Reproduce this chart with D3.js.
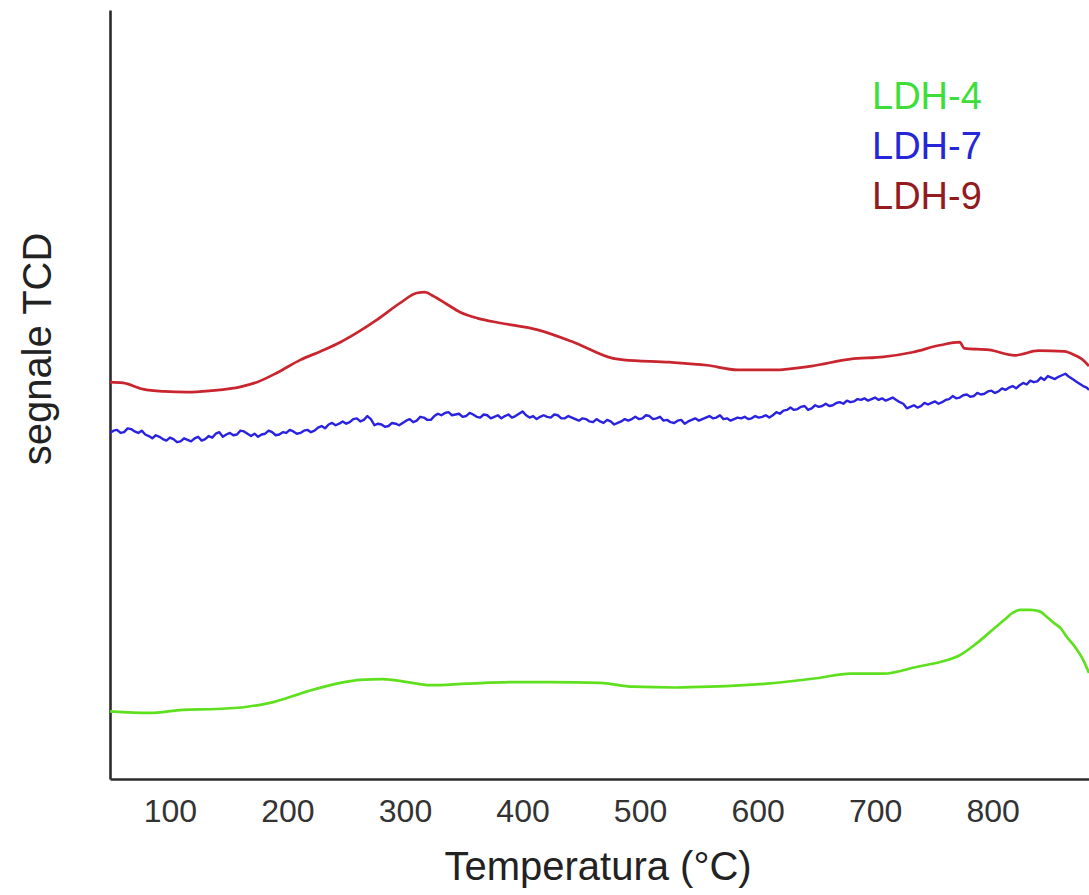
<!DOCTYPE html>
<html>
<head>
<meta charset="utf-8">
<script src="https://cdn.jsdelivr.net/npm/d3@7"></script>
<style>
  html, body { margin: 0; padding: 0; background: #fff; }
  svg { display: block; font-family: "Liberation Sans", Arial, sans-serif; }
</style>
</head>
<body>
<svg id="chart" width="1089" height="895"></svg>
<script>
// Temperature ticks (°C)
const xTicks = [100, 200, 300, 400, 500, 600, 700, 800];

// TCD signal (arbitrary units) vs temperature (°C)
const ldh4T = [49, 83, 111, 140, 166, 188, 217, 245, 262, 281, 302, 321, 353, 395, 423, 466, 494, 530, 560, 608, 650, 679, 707, 736, 760, 772, 786, 800, 810, 817, 824, 832, 840, 846, 852, 858, 863, 870, 877, 882];
const ldh4V = [8.8, 8.6, 9.0, 9.1, 9.4, 10.0, 11.4, 12.5, 12.9, 13.0, 12.6, 12.2, 12.4, 12.6, 12.6, 12.5, 12.0, 11.9, 12.0, 12.4, 13.1, 13.7, 13.7, 14.6, 15.4, 16.1, 17.6, 19.4, 20.7, 21.6, 22.0, 22.0, 21.8, 21.1, 20.3, 19.6, 18.5, 17.2, 15.5, 13.8];

const ldh7T = [
  49, 52, 55, 58, 61, 64, 67, 70, 73, 76,
  79, 82, 85, 88, 91, 94, 97, 100, 103, 106,
  109, 112, 115, 118, 121, 124, 127, 130, 133, 136,
  139, 142, 145, 148, 151, 154, 157, 160, 163, 166,
  169, 172, 175, 178, 181, 184, 187, 190, 193, 196,
  199, 202, 205, 208, 211, 214, 217, 220, 223, 226,
  229, 232, 235, 238, 241, 244, 247, 250, 253, 256,
  259, 262, 265, 268, 271, 274, 277, 280, 283, 286,
  289, 292, 295, 298, 301, 304, 307, 310, 313, 316,
  319, 322, 325, 328, 331, 334, 337, 340, 343, 346,
  349, 352, 355, 358, 361, 364, 367, 370, 373, 376,
  379, 382, 385, 388, 391, 394, 397, 400, 403, 406,
  409, 412, 415, 418, 421, 424, 427, 430, 433, 436,
  439, 442, 445, 448, 451, 454, 457, 460, 463, 466,
  469, 472, 475, 478, 481, 484, 487, 490, 493, 496,
  499, 502, 505, 508, 511, 514, 517, 520, 523, 526,
  529, 532, 535, 538, 541, 544, 547, 550, 553, 556,
  559, 562, 565, 568, 571, 574, 577, 580, 583, 586,
  589, 592, 595, 598, 601, 604, 607, 610, 613, 616,
  619, 622, 625, 628, 631, 634, 637, 640, 643, 646,
  649, 652, 655, 658, 661, 664, 667, 670, 673, 676,
  679, 682, 685, 688, 691, 694, 697, 700, 703, 706,
  709, 712, 715, 718, 721, 724, 727, 730, 733, 736,
  739, 742, 745, 748, 751, 754, 757, 760, 763, 766,
  769, 772, 775, 778, 781, 784, 787, 790, 793, 796,
  799, 802, 805, 808, 811, 814, 817, 820, 823, 826,
  829, 832, 835, 838, 841, 844, 847, 850, 853, 856,
  859, 862, 865, 868, 871, 874, 877, 880, 882
];
const ldh7V = [
  45.0, 45.3, 45.4, 45.0, 45.1, 45.6, 45.5, 45.2, 45.0, 45.3,
  44.8, 44.6, 44.3, 44.7, 44.5, 44.2, 44.0, 44.4, 44.2, 43.8,
  43.9, 44.3, 44.1, 43.9, 44.3, 44.5, 44.0, 44.2, 44.6, 44.4,
  44.9, 45.1, 44.5, 44.8, 45.0, 44.7, 44.8, 45.3, 45.2, 44.9,
  44.6, 44.9, 44.5, 44.8, 44.9, 45.3, 45.1, 44.7, 44.8, 45.1,
  45.0, 45.4, 45.2, 44.9, 45.0, 45.3, 45.4, 45.1, 45.3, 45.7,
  45.9, 45.6, 46.1, 46.3, 46.0, 46.2, 46.5, 46.2, 46.4, 46.8,
  46.9, 46.5, 46.7, 47.2, 46.8, 46.0, 46.2, 46.1, 45.8, 45.9,
  46.3, 46.2, 46.0, 46.3, 46.6, 46.8, 46.4, 46.6, 47.1, 47.0,
  46.7, 46.7, 47.2, 47.5, 47.3, 47.6, 47.7, 47.3, 47.4, 47.5,
  47.1, 47.2, 47.6, 47.4, 47.1, 47.0, 47.4, 47.3, 46.9, 47.1,
  47.3, 46.9, 47.2, 47.4, 47.0, 47.2, 47.5, 47.8, 47.3, 47.0,
  47.2, 46.8, 47.1, 47.3, 47.1, 47.0, 47.4, 47.3, 46.9, 46.9,
  47.2, 47.0, 46.8, 46.6, 46.9, 46.8, 46.5, 46.4, 46.8, 46.5,
  46.3, 46.7, 46.5, 46.1, 46.3, 46.5, 46.8, 46.6, 46.8, 47.1,
  46.8, 46.9, 47.3, 47.2, 46.8, 46.9, 47.1, 46.6, 46.7, 46.4,
  46.3, 46.6, 46.7, 46.2, 46.5, 46.7, 46.9, 46.6, 46.8, 47.0,
  47.2, 46.9, 47.0, 47.3, 46.8, 46.9, 46.6, 46.8, 47.0, 46.9,
  47.1, 46.8, 46.9, 47.2, 47.0, 47.1, 47.3, 47.0, 47.3, 47.7,
  47.5, 47.9, 48.0, 48.3, 48.0, 48.1, 48.4, 48.5, 48.0, 48.2,
  48.6, 48.4, 48.5, 48.8, 48.5, 48.6, 48.9, 49.0, 48.8, 49.2,
  49.0, 49.1, 49.4, 49.3, 49.5, 49.2, 49.4, 49.6, 49.3, 49.5,
  49.2, 49.4, 49.6, 49.3, 49.0, 48.8, 48.2, 48.4, 48.6, 48.3,
  48.5, 48.9, 48.7, 48.9, 49.1, 48.8, 49.0, 49.3, 49.4, 49.8,
  49.5, 49.6, 49.9, 50.0, 49.7, 49.8, 50.2, 50.0, 50.1, 50.4,
  50.5, 50.2, 50.4, 50.8, 50.6, 50.9, 51.1, 50.8, 51.2, 51.5,
  51.3, 51.8, 51.6, 51.7, 52.2, 51.9, 52.4, 52.2, 52.0, 52.3,
  52.5, 52.7, 52.3, 52.0, 51.7, 51.4, 51.1, 50.9, 50.6
];

const ldh9T = [49, 60, 77, 95, 115, 135, 160, 174, 192, 211, 228, 245, 262, 276, 296, 310, 317, 324, 335, 347, 362, 381, 413, 445, 477, 486, 525, 557, 583, 614, 646, 679, 707, 732, 755, 772, 776, 797, 819, 839, 861, 870, 876, 882];
const ldh9V = [51.6, 51.5, 50.7, 50.4, 50.3, 50.5, 51.0, 51.6, 52.9, 54.5, 55.6, 56.8, 58.3, 59.7, 61.9, 63.2, 63.3, 62.8, 61.8, 60.7, 59.9, 59.3, 58.4, 56.7, 54.7, 54.5, 54.2, 53.8, 53.2, 53.2, 53.7, 54.6, 54.9, 55.5, 56.4, 56.8, 56.0, 55.8, 55.1, 55.7, 55.6, 55.1, 54.6, 53.7];

const seriesNames = ["LDH-4", "LDH-7", "LDH-9"];
const lineColors = ["#5fe01f", "#2a22e0", "#c9252f"];
const legendColors = ["#3ede3a", "#2626d8", "#931b1e"];

const svg = d3.select("#chart");

const x = d3.scaleLinear().domain([49, 882]).range([110, 1089]);
const y = d3.scaleLinear().domain([0, 100]).range([779, 10]);

// axes: plain lines, labels only on the temperature axis
const xAxis = svg.append("g")
  .attr("transform", "translate(0,779)")
  .call(d3.axisBottom(x).tickValues(xTicks).tickSize(0).tickPadding(20).tickFormat(d3.format("d")));
xAxis.select(".domain").attr("stroke", "#2b2b2b").attr("stroke-width", 2.6);
xAxis.selectAll("text").attr("font-size", 32).attr("fill", "#333").attr("font-family", "Liberation Sans, Arial, sans-serif");

const yAxis = svg.append("g")
  .attr("transform", "translate(110,0)")
  .call(d3.axisLeft(y).tickValues([]).tickSizeOuter(0));
yAxis.select(".domain").attr("stroke", "#2b2b2b").attr("stroke-width", 2.6);

// series
const data = [
  d3.zip(ldh4T, ldh4V),
  d3.zip(ldh7T, ldh7V),
  d3.zip(ldh9T, ldh9V)
];

const smooth = d3.line().x(d => x(d[0])).y(d => y(d[1])).curve(d3.curveMonotoneX);
const jagged = d3.line().x(d => x(d[0])).y(d => y(d[1])).curve(d3.curveLinear);

data.forEach((pts, i) => {
  svg.append("path")
    .datum(pts)
    .attr("fill", "none")
    .attr("stroke", lineColors[i])
    .attr("stroke-width", i === 1 ? 2.4 : 2.7)
    .attr("stroke-linejoin", "round")
    .attr("d", i === 1 ? jagged : smooth);
});

// legend
svg.append("g").selectAll("text")
  .data(seriesNames)
  .join("text")
  .attr("x", 872)
  .attr("y", (d, i) => 109 + i * 50)
  .attr("font-size", 38)
  .attr("fill", (d, i) => legendColors[i])
  .text(d => d);

// axis titles
svg.append("text")
  .attr("x", 598)
  .attr("y", 880)
  .attr("text-anchor", "middle")
  .attr("font-size", 40)
  .attr("fill", "#222")
  .text("Temperatura (°C)");

svg.append("text")
  .attr("transform", "translate(51,349) rotate(-90)")
  .attr("text-anchor", "middle")
  .attr("font-size", 40)
  .attr("fill", "#222")
  .text("segnale TCD");
</script>
</body>
</html>
